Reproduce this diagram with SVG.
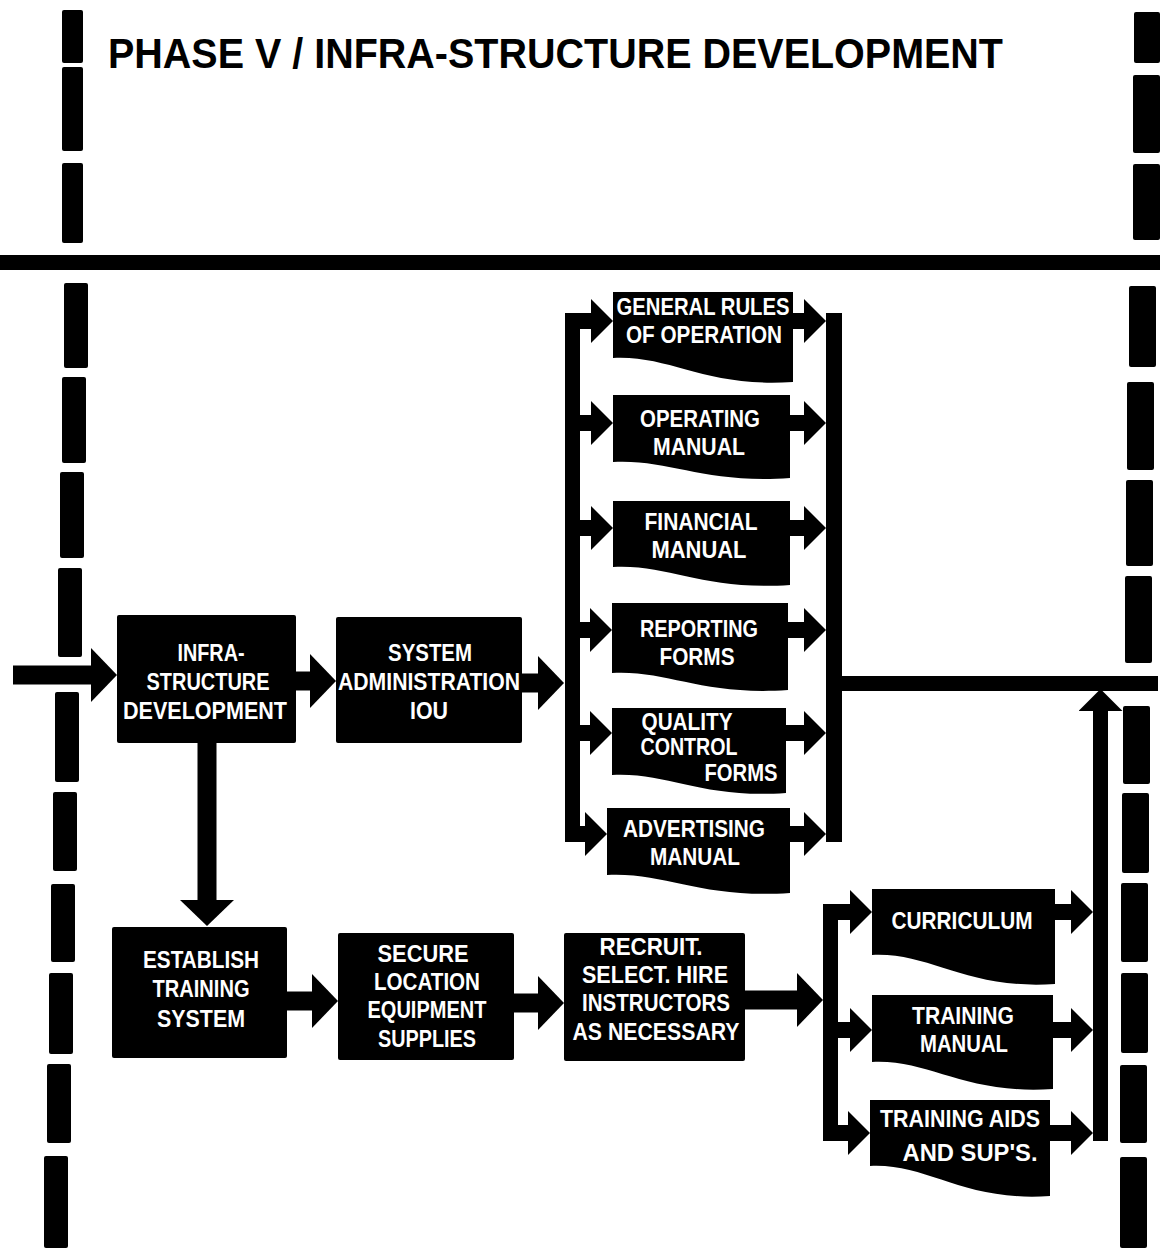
<svg xmlns="http://www.w3.org/2000/svg" width="1160" height="1257" viewBox="0 0 1160 1257">
  <defs>
    <style>
      .title { font-family: "Liberation Sans", Arial, sans-serif; font-weight: bold; font-size: 43px; fill: #000; }
      .t { font-family: "Liberation Sans Narrow", "Liberation Sans", Arial, sans-serif; font-weight: bold; font-size: 24px; fill: #fff; text-anchor: middle; }
      .box { fill: #000; }
      .doc { fill: #000; }
      .dash { fill: #000; }
      .wire { fill: none; stroke: #000; stroke-linejoin: miter; }
      .main { stroke-width: 19; marker-end: url(#headBig); }
      .branch { stroke-width: 16; marker-end: url(#headSmall); }
      .bar { stroke-width: 15; }
    </style>
    <marker id="headBig" markerUnits="userSpaceOnUse" markerWidth="26" markerHeight="54" viewBox="0 0 26 54" refX="1" refY="27" orient="auto">
      <path d="M0,0 L26,27 L0,54 Z" fill="#000"/>
    </marker>
    <marker id="headSmall" markerUnits="userSpaceOnUse" markerWidth="22" markerHeight="44" viewBox="0 0 22 44" refX="1" refY="22" orient="auto">
      <path d="M0,0 L22,22 L0,44 Z" fill="#000"/>
    </marker>
  </defs>

  <rect width="1160" height="1257" fill="#fff"/>

  <!-- phase boundaries -->
  <g id="frame">
    <rect x="0" y="255" width="1160" height="15" class="dash"/>
    <!-- left dashed boundary -->
    <rect x="62" y="10" width="21" height="53" class="dash" rx="2"/>
    <rect x="62" y="67" width="21" height="84" class="dash" rx="2"/>
    <rect x="62" y="163" width="21" height="80" class="dash" rx="2"/>
    <rect x="64" y="283" width="24" height="85" class="dash" rx="2"/>
    <rect x="62" y="377" width="24" height="86" class="dash" rx="2"/>
    <rect x="60" y="472" width="24" height="86" class="dash" rx="2"/>
    <rect x="58" y="568" width="24" height="89" class="dash" rx="2"/>
    <rect x="55" y="692" width="24" height="90" class="dash" rx="2"/>
    <rect x="53" y="792" width="24" height="79" class="dash" rx="2"/>
    <rect x="51" y="884" width="24" height="78" class="dash" rx="2"/>
    <rect x="49" y="973" width="24" height="81" class="dash" rx="2"/>
    <rect x="47" y="1064" width="24" height="79" class="dash" rx="2"/>
    <rect x="44" y="1156" width="24" height="92" class="dash" rx="2"/>
    <!-- right dashed boundary -->
    <rect x="1134" y="12" width="26" height="51" class="dash" rx="2"/>
    <rect x="1133" y="75" width="27" height="78" class="dash" rx="2"/>
    <rect x="1133" y="164" width="27" height="76" class="dash" rx="2"/>
    <rect x="1129" y="286" width="27" height="81" class="dash" rx="2"/>
    <rect x="1127" y="382" width="27" height="88" class="dash" rx="2"/>
    <rect x="1126" y="480" width="27" height="86" class="dash" rx="2"/>
    <rect x="1125" y="576" width="27" height="87" class="dash" rx="2"/>
    <rect x="1123" y="706" width="27" height="78" class="dash" rx="2"/>
    <rect x="1122" y="793" width="27" height="80" class="dash" rx="2"/>
    <rect x="1121" y="883" width="27" height="79" class="dash" rx="2"/>
    <rect x="1121" y="973" width="27" height="80" class="dash" rx="2"/>
    <rect x="1120" y="1065" width="27" height="78" class="dash" rx="2"/>
    <rect x="1120" y="1157" width="27" height="91" class="dash" rx="2"/>
  </g>

  <text class="title" x="108" y="68" textLength="895" lengthAdjust="spacingAndGlyphs">PHASE V / INFRA-STRUCTURE DEVELOPMENT</text>

  <!-- connectors -->
  <g id="connectors">
    <path class="wire main" d="M13,675 H92"/>
    <path class="wire main" d="M296,681 H311"/>
    <path class="wire main" d="M522,683 H539"/>
    <path class="wire main" d="M207,743 V901"/>
    <path class="wire main" d="M287,1001 H313"/>
    <path class="wire main" d="M514,1003 H539"/>
    <path class="wire main" d="M745,1000 H798"/>

    <!-- manuals: fan-out / fan-in bars -->
    <path class="wire bar" d="M572.5,313 V842"/>
    <path class="wire bar" d="M834,313 V842" style="stroke-width:16"/>
    <path class="wire bar" d="M834,683.5 H1158"/>
    <path class="wire branch" d="M572,321 H592"/>
    <path class="wire branch" d="M572,423 H592"/>
    <path class="wire branch" d="M572,528 H592"/>
    <path class="wire branch" d="M572,630 H591"/>
    <path class="wire branch" d="M572,733 H591"/>
    <path class="wire branch" d="M572,834 H586"/>
    <path class="wire branch" d="M793,321 H805"/>
    <path class="wire branch" d="M790,423 H805"/>
    <path class="wire branch" d="M790,528 H805"/>
    <path class="wire branch" d="M788,630 H805"/>
    <path class="wire branch" d="M786,733 H805"/>
    <path class="wire branch" d="M790,834 H805"/>

    <!-- training materials: fan-out / fan-in -->
    <path class="wire bar" d="M830.5,904 V1141"/>
    <path class="wire branch" d="M830,912 H851"/>
    <path class="wire branch" d="M830,1030 H851"/>
    <path class="wire branch" d="M830,1133 H849"/>
    <path class="wire branch" d="M1055,912 H1072"/>
    <path class="wire branch" d="M1053,1030 H1072"/>
    <path class="wire branch" d="M1050,1133 H1072"/>
    <path class="wire branch" d="M1100.5,1141 V710" style="stroke-width:15"/>
  </g>

  <!-- process boxes -->
  <g id="infra-structure-development">
    <rect class="box" x="117" y="615" width="179" height="128" rx="2"/>
    <text class="t" x="211" y="661" textLength="67" lengthAdjust="spacingAndGlyphs">INFRA-</text>
    <text class="t" x="208" y="690" textLength="123" lengthAdjust="spacingAndGlyphs">STRUCTURE</text>
    <text class="t" x="205" y="719" textLength="164" lengthAdjust="spacingAndGlyphs">DEVELOPMENT</text>
  </g>
  <g id="system-administration">
    <rect class="box" x="336" y="617" width="186" height="126" rx="2"/>
    <text class="t" x="430" y="661" textLength="84" lengthAdjust="spacingAndGlyphs">SYSTEM</text>
    <text class="t" x="429" y="690" textLength="182" lengthAdjust="spacingAndGlyphs">ADMINISTRATION</text>
    <text class="t" x="429" y="719" textLength="38" lengthAdjust="spacingAndGlyphs">IOU</text>
  </g>

  <!-- documents -->
  <g id="general-rules">
    <path class="doc" d="M613,292 H793 V382 C705,388 671,355 613,358 Z"/>
    <text class="t" x="703" y="315" textLength="173" lengthAdjust="spacingAndGlyphs">GENERAL RULES</text>
    <text class="t" x="704" y="343" textLength="156" lengthAdjust="spacingAndGlyphs">OF OPERATION</text>
  </g>
  <g id="operating-manual">
    <path class="doc" d="M613,395 H790 V478 C703,484 670,459 613,462 Z"/>
    <text class="t" x="700" y="427" textLength="120" lengthAdjust="spacingAndGlyphs">OPERATING</text>
    <text class="t" x="699" y="455" textLength="92" lengthAdjust="spacingAndGlyphs">MANUAL</text>
  </g>
  <g id="financial-manual">
    <path class="doc" d="M613,501 H790 V585 C703,591 670,564 613,567 Z"/>
    <text class="t" x="701" y="530" textLength="113" lengthAdjust="spacingAndGlyphs">FINANCIAL</text>
    <text class="t" x="699" y="558" textLength="95" lengthAdjust="spacingAndGlyphs">MANUAL</text>
  </g>
  <g id="reporting-forms">
    <path class="doc" d="M612,603 H788 V690 C702,696 668,670 612,673 Z"/>
    <text class="t" x="699" y="637" textLength="118" lengthAdjust="spacingAndGlyphs">REPORTING</text>
    <text class="t" x="697" y="665" textLength="75" lengthAdjust="spacingAndGlyphs">FORMS</text>
  </g>
  <g id="quality-control-forms">
    <path class="doc" d="M612,708 H786 V793 C701,799 668,772 612,775 Z"/>
    <text class="t" x="687" y="730" textLength="91" lengthAdjust="spacingAndGlyphs">QUALITY</text>
    <text class="t" x="689" y="755" textLength="97" lengthAdjust="spacingAndGlyphs">CONTROL</text>
    <text class="t" x="741" y="781" textLength="73" lengthAdjust="spacingAndGlyphs">FORMS</text>
  </g>
  <g id="advertising-manual">
    <path class="doc" d="M607,808 H790 V893 C700,899 666,872 607,875 Z"/>
    <text class="t" x="694" y="837" textLength="142" lengthAdjust="spacingAndGlyphs">ADVERTISING</text>
    <text class="t" x="695" y="865" textLength="90" lengthAdjust="spacingAndGlyphs">MANUAL</text>
  </g>

  <!-- training branch -->
  <g id="establish-training-system">
    <rect class="box" x="112" y="927" width="175" height="131" rx="2"/>
    <text class="t" x="201" y="968" textLength="116" lengthAdjust="spacingAndGlyphs">ESTABLISH</text>
    <text class="t" x="201" y="997" textLength="97" lengthAdjust="spacingAndGlyphs">TRAINING</text>
    <text class="t" x="201" y="1027" textLength="88" lengthAdjust="spacingAndGlyphs">SYSTEM</text>
  </g>
  <g id="secure-location">
    <rect class="box" x="338" y="933" width="176" height="127" rx="2"/>
    <text class="t" x="423" y="962" textLength="91" lengthAdjust="spacingAndGlyphs">SECURE</text>
    <text class="t" x="427" y="990" textLength="106" lengthAdjust="spacingAndGlyphs">LOCATION</text>
    <text class="t" x="427" y="1018" textLength="119" lengthAdjust="spacingAndGlyphs">EQUIPMENT</text>
    <text class="t" x="427" y="1047" textLength="98" lengthAdjust="spacingAndGlyphs">SUPPLIES</text>
  </g>
  <g id="recruit-instructors">
    <rect class="box" x="564" y="933" width="181" height="128" rx="2"/>
    <text class="t" x="651" y="955" textLength="103" lengthAdjust="spacingAndGlyphs">RECRUIT.</text>
    <text class="t" x="655" y="983" textLength="146" lengthAdjust="spacingAndGlyphs">SELECT. HIRE</text>
    <text class="t" x="656" y="1011" textLength="148" lengthAdjust="spacingAndGlyphs">INSTRUCTORS</text>
    <text class="t" x="656" y="1040" textLength="167" lengthAdjust="spacingAndGlyphs">AS NECESSARY</text>
  </g>
  <g id="curriculum">
    <path class="doc" d="M872,889 H1055 V984 C965,990 931,952 872,955 Z"/>
    <text class="t" x="962" y="929" textLength="141" lengthAdjust="spacingAndGlyphs">CURRICULUM</text>
  </g>
  <g id="training-manual">
    <path class="doc" d="M872,995 H1053 V1089 C964,1095 930,1059 872,1062 Z"/>
    <text class="t" x="963" y="1024" textLength="102" lengthAdjust="spacingAndGlyphs">TRAINING</text>
    <text class="t" x="964" y="1052" textLength="88" lengthAdjust="spacingAndGlyphs">MANUAL</text>
  </g>
  <g id="training-aids">
    <path class="doc" d="M870,1100 H1050 V1196 C962,1202 928,1163 870,1166 Z"/>
    <text class="t" x="960" y="1127" textLength="160" lengthAdjust="spacingAndGlyphs">TRAINING AIDS</text>
    <text class="t" x="970" y="1161" textLength="135" lengthAdjust="spacingAndGlyphs">AND SUP'S.</text>
  </g>
</svg>
